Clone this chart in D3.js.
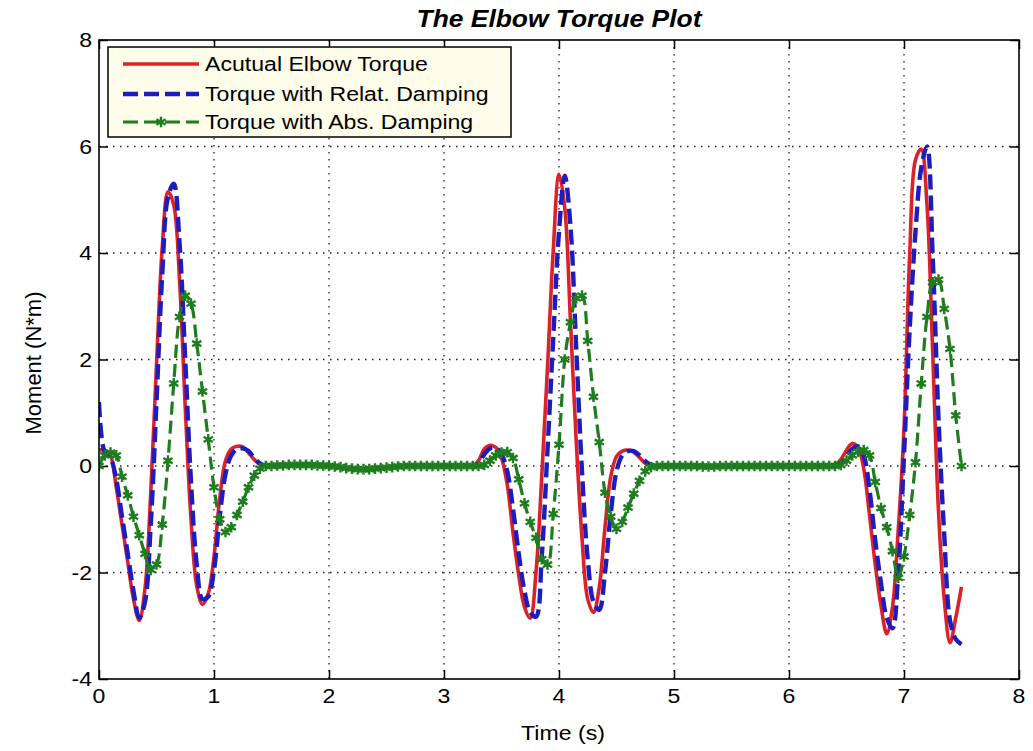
<!DOCTYPE html>
<html lang="en">
<head>
<meta charset="utf-8">
<title>The Elbow Torque Plot</title>
<script src="https://cdn.jsdelivr.net/npm/d3@7"></script>
<style>
  body { margin: 0; background: #fff; }
  svg text { font-family: Arial, "Liberation Sans", sans-serif; fill: #000; }
</style>
</head>
<body>
<script>

// sample times, every 0.05 s from 0 to 7.5
var time = d3.range(151).map(function(i) { return i * 0.05; });

// Acutual elbow torque (red)
var actualTorque = [
  0.30, 0.30, 0.20, -0.40, -1.10, -1.80, -2.50, -2.90, -2.30, -0.50,
  1.90, 4.10, 5.15, 4.90, 3.50, 1.10, -1.00, -2.25, -2.60, -2.40,
  -1.70, -0.60, 0.10, 0.32, 0.37, 0.36, 0.25, 0.12, 0.03, 0.00,
  0.00, 0.00, 0.01, 0.01, 0.02, 0.02, 0.02, 0.02, 0.02, 0.01,
  0.00, 0.00, -0.02, -0.04, -0.05, -0.06, -0.06, -0.06, -0.05, -0.04,
  -0.03, -0.02, -0.01, 0.00, 0.00, 0.00, 0.00, 0.00, 0.00, 0.00,
  0.00, 0.00, 0.00, 0.00, 0.00, 0.00, 0.10, 0.32, 0.39, 0.35,
  0.15, -0.35, -1.25, -2.05, -2.65, -2.86, -2.00, -0.20, 1.85, 4.05,
  5.48, 4.85, 2.70, 0.45, -1.35, -2.50, -2.75, -2.28, -1.15, -0.20,
  0.18, 0.28, 0.30, 0.26, 0.16, 0.05, 0.00, 0.00, 0.00, 0.00,
  0.00, 0.00, 0.00, 0.00, 0.00, -0.01, -0.01, -0.01, 0.00, 0.00,
  0.00, 0.00, 0.00, 0.00, 0.00, 0.00, 0.00, 0.00, 0.00, 0.00,
  0.00, 0.00, 0.00, 0.00, 0.00, 0.00, 0.00, 0.00, 0.02, 0.12,
  0.30, 0.42, 0.35, -0.05, -0.92, -1.85, -2.63, -3.15, -2.65, -1.20,
  0.70, 4.00, 5.75, 5.95, 4.90, 2.10, -0.85, -2.50, -3.32, -2.85,
  -2.27
];

// torque with relative damping (blue dashed)
var relatTorque = [
  1.20, 0.25, 0.15, -0.25, -0.95, -1.65, -2.35, -2.85, -2.55, -1.10,
  1.20, 3.60, 5.05, 5.30, 4.20, 2.00, -0.30, -1.85, -2.50, -2.45,
  -1.95, -0.95, -0.15, 0.20, 0.32, 0.33, 0.28, 0.15, 0.05, 0.00,
  0.00, 0.00, 0.01, 0.01, 0.02, 0.02, 0.02, 0.02, 0.02, 0.01,
  0.00, 0.00, -0.02, -0.04, -0.05, -0.06, -0.06, -0.06, -0.05, -0.04,
  -0.03, -0.02, -0.01, 0.00, 0.00, 0.00, 0.00, 0.00, 0.00, 0.00,
  0.00, 0.00, 0.00, 0.00, 0.00, 0.00, 0.05, 0.22, 0.33, 0.34,
  0.22, -0.10, -0.80, -1.65, -2.35, -2.75, -2.83, -1.70, 0.30, 2.40,
  4.40, 5.45, 4.50, 2.20, -0.10, -1.75, -2.55, -2.70, -2.00, -0.90,
  -0.10, 0.20, 0.28, 0.28, 0.20, 0.09, 0.02, 0.00, 0.00, 0.00,
  0.00, 0.00, 0.00, 0.00, 0.00, -0.01, -0.01, -0.01, 0.00, 0.00,
  0.00, 0.00, 0.00, 0.00, 0.00, 0.00, 0.00, 0.00, 0.00, 0.00,
  0.00, 0.00, 0.00, 0.00, 0.00, 0.00, 0.00, 0.00, 0.00, 0.05,
  0.18, 0.32, 0.37, 0.20, -0.45, -1.40, -2.20, -2.85, -3.05, -2.00,
  0.20, 2.60, 4.40, 5.60, 6.00, 3.90, 0.90, -1.30, -2.90, -3.25,
  -3.35
];

// torque with absolute damping (green dashed, star markers)
var absTorque = [
  0.00, 0.20, 0.25, 0.20, -0.20, -0.55, -0.95, -1.30, -1.65, -1.95,
  -1.85, -1.10, 0.10, 1.55, 2.80, 3.20, 3.05, 2.30, 1.40, 0.50,
  -0.40, -1.00, -1.24, -1.15, -0.92, -0.67, -0.40, -0.18, -0.05, 0.00,
  0.00, 0.01, 0.01, 0.02, 0.02, 0.02, 0.02, 0.02, 0.01, 0.01,
  0.00, -0.01, -0.02, -0.04, -0.05, -0.06, -0.06, -0.06, -0.05, -0.04,
  -0.03, -0.02, -0.01, 0.00, 0.00, 0.00, 0.00, 0.00, 0.00, 0.00,
  0.00, 0.00, 0.00, 0.00, 0.00, 0.00, 0.00, 0.02, 0.10, 0.20,
  0.25, 0.26, 0.15, -0.25, -0.70, -1.05, -1.35, -1.75, -1.85, -0.90,
  0.40, 2.00, 2.70, 3.15, 3.20, 2.35, 1.30, 0.45, -0.50, -0.95,
  -1.18, -1.05, -0.78, -0.52, -0.28, -0.10, -0.02, 0.00, 0.00, 0.00,
  0.00, 0.00, 0.00, 0.00, 0.00, -0.01, -0.01, -0.01, 0.00, 0.00,
  0.00, 0.00, 0.00, 0.00, 0.00, 0.00, 0.00, 0.00, 0.00, 0.00,
  0.00, 0.00, 0.00, 0.00, 0.00, 0.00, 0.00, 0.00, 0.00, 0.02,
  0.10, 0.20, 0.27, 0.30, 0.20, -0.30, -0.79, -1.15, -1.60, -2.10,
  -1.70, -0.92, 0.07, 1.55, 2.80, 3.45, 3.50, 2.95, 2.20, 0.95,
  0.00
];

var seriesNames = ["Acutual Elbow Torque", "Torque with Relat. Damping", "Torque with Abs. Damping"];
var xTicks = [0, 1, 2, 3, 4, 5, 6, 7, 8];
var yTicks = [-4, -2, 0, 2, 4, 6, 8];

var w = 1033;
var h = 751;
var boxLeft = 99, boxRight = 1019, boxTop = 40, boxBottom = 679;
var stretch = 1.1;   // the picture is a bit wider than tall

var red = "#dc2229";
var blue = "#1c1cc0";
var green = "#1f7d1f";

var svg = d3.select("body")
  .append("svg")
  .attr("width", w)
  .attr("height", h);

var xScale = d3.scaleLinear().domain([0, 8]).range([boxLeft, boxRight]);
var yScale = d3.scaleLinear().domain([-4, 8]).range([boxBottom, boxTop]);

// put text with a small horizontal stretch
function addText(x, y, str, size, anchor) {
  return svg.append("text")
    .attr("transform", "translate(" + x + "," + y + ") scale(" + stretch + ",1)")
    .attr("text-anchor", anchor || "middle")
    .attr("font-size", size + "px")
    .text(str);
}

// white plot area
svg.append("rect")
  .attr("x", boxLeft).attr("y", boxTop)
  .attr("width", boxRight - boxLeft).attr("height", boxBottom - boxTop)
  .attr("fill", "#fff");

// dotted grid
svg.append("g").selectAll("line")
  .data(xTicks.slice(1, -1))
  .enter().append("line")
  .attr("x1", function(d) { return xScale(d); })
  .attr("x2", function(d) { return xScale(d); })
  .attr("y1", boxTop).attr("y2", boxBottom)
  .attr("stroke", "#222").attr("stroke-width", 1.3)
  .attr("stroke-dasharray", "1.5,5.5");

svg.append("g").selectAll("line")
  .data(yTicks.slice(1, -1))
  .enter().append("line")
  .attr("y1", function(d) { return yScale(d); })
  .attr("y2", function(d) { return yScale(d); })
  .attr("x1", boxLeft).attr("x2", boxRight)
  .attr("stroke", "#222").attr("stroke-width", 1.3)
  .attr("stroke-dasharray", "1.5,5.5");

// inward ticks on all four sides
var tickLen = 9;
var xAxisB = d3.axisBottom(xScale).tickValues(xTicks).tickSize(-tickLen).tickFormat("");
var xAxisT = d3.axisTop(xScale).tickValues(xTicks).tickSize(-tickLen).tickFormat("");
var yAxisL = d3.axisLeft(yScale).tickValues(yTicks).tickSize(-tickLen).tickFormat("");
var yAxisR = d3.axisRight(yScale).tickValues(yTicks).tickSize(-tickLen).tickFormat("");

[[xAxisB, "translate(0," + boxBottom + ")"], [xAxisT, "translate(0," + boxTop + ")"],
 [yAxisL, "translate(" + boxLeft + ",0)"], [yAxisR, "translate(" + boxRight + ",0)"]].forEach(function(a) {
  var g = svg.append("g").attr("transform", a[1]).call(a[0]);
  g.select(".domain").remove();
  g.selectAll("line").attr("stroke", "#000").attr("stroke-width", 1.5);
});

// clip curves to the axes box
svg.append("clipPath").attr("id", "plotClip")
  .append("rect")
  .attr("x", boxLeft).attr("y", boxTop)
  .attr("width", boxRight - boxLeft).attr("height", boxBottom - boxTop);

var plot = svg.append("g").attr("clip-path", "url(#plotClip)");

function series(values) {
  return values.map(function(v, i) { return { t: time[i], v: v }; });
}

var line = d3.line()
  .x(function(d) { return xScale(d.t); })
  .y(function(d) { return yScale(d.v); })
  .curve(d3.curveCatmullRom);

plot.append("path")
  .datum(series(actualTorque))
  .attr("d", line)
  .attr("fill", "none")
  .attr("stroke", red)
  .attr("stroke-width", 3.6);

plot.append("path")
  .datum(series(relatTorque))
  .attr("d", line)
  .attr("fill", "none")
  .attr("stroke", blue)
  .attr("stroke-width", 4.4)
  .attr("stroke-dasharray", "15,6");

plot.append("path")
  .datum(series(absTorque))
  .attr("d", line)
  .attr("fill", "none")
  .attr("stroke", green)
  .attr("stroke-width", 3.2)
  .attr("stroke-dasharray", "13,6");

var star = d3.symbol().type(d3.symbolAsterisk).size(80);

plot.append("g").selectAll("path")
  .data(series(absTorque))
  .enter().append("path")
  .attr("transform", function(d) { return "translate(" + xScale(d.t) + "," + yScale(d.v) + ")"; })
  .attr("d", star)
  .attr("fill", "none")
  .attr("stroke", green)
  .attr("stroke-width", 2.4);

// axes box
svg.append("rect")
  .attr("x", boxLeft).attr("y", boxTop)
  .attr("width", boxRight - boxLeft).attr("height", boxBottom - boxTop)
  .attr("fill", "none")
  .attr("stroke", "#000")
  .attr("stroke-width", 1.6);

// tick labels
xTicks.forEach(function(d) {
  addText(xScale(d), 703, d, 21);
});
yTicks.forEach(function(d) {
  addText(boxLeft - 7, yScale(d) + 7, d, 21, "end");
});

// title and axis labels
addText((boxLeft + boxRight) / 2, 27, "The Elbow Torque Plot", 24)
  .attr("font-weight", "bold")
  .attr("font-style", "italic");
addText(563, 740, "Time (s)", 21);

svg.append("text")
  .attr("transform", "translate(41,363) rotate(-90)")
  .attr("text-anchor", "middle")
  .attr("font-size", "22px")
  .text("Moment (N*m)");

// legend
var legend = svg.append("g");
legend.append("rect")
  .attr("x", 108).attr("y", 47)
  .attr("width", 403).attr("height", 90)
  .attr("fill", "#fdfde9")
  .attr("stroke", "#000")
  .attr("stroke-width", 1.5);

var legendY = [64, 94, 122];
var legendStyle = [
  { color: red, width: 3.6, dash: null, marker: false },
  { color: blue, width: 4.4, dash: "15,6", marker: false },
  { color: green, width: 3.2, dash: "15,6", marker: true }
];

seriesNames.forEach(function(name, i) {
  var s = legendStyle[i];
  legend.append("line")
    .attr("x1", 123).attr("x2", 199)
    .attr("y1", legendY[i]).attr("y2", legendY[i])
    .attr("stroke", s.color)
    .attr("stroke-width", s.width)
    .attr("stroke-dasharray", s.dash);
  if (s.marker) {
    legend.append("path")
      .attr("transform", "translate(161," + legendY[i] + ")")
      .attr("d", star)
      .attr("fill", "none")
      .attr("stroke", s.color)
      .attr("stroke-width", 2.4);
  }
  addText(205, legendY[i] + 7, name, 21, "start");
});

</script>
</body>
</html>
